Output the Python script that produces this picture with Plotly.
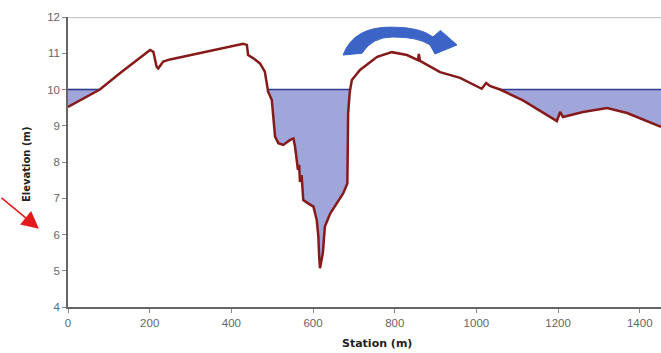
import numpy as np
import plotly.graph_objects as go

# Ground profile along the cross-section
station = [0, 78, 127, 201, 209, 217, 221, 233, 250, 340, 429, 438, 441, 454, 470, 482,
           487, 490, 499, 503, 507, 515, 527, 544, 552, 556, 560, 563, 566, 568, 572,
           576, 588, 601, 609, 613, 615, 617, 624, 629, 642, 658, 674, 684, 684.5, 686,
           690, 695, 715, 757, 793, 830, 857, 859, 862, 911, 960, 1013, 1024, 1033,
           1058, 1114, 1197, 1205, 1212, 1222, 1261, 1320, 1369, 1452]
elevation = [9.52, 10.0, 10.45, 11.09, 11.04, 10.63, 10.58, 10.77, 10.83, 11.04, 11.26,
             11.23, 10.95, 10.86, 10.72, 10.49, 10.08, 9.94, 9.71, 9.16, 8.70, 8.52, 8.47,
             8.61, 8.65, 8.42, 7.96, 7.78, 7.92, 7.45, 7.64, 6.95, 6.86, 6.77, 6.40, 5.94,
             5.39, 5.07, 5.49, 6.22, 6.58, 6.86, 7.14, 7.41, 8.60, 9.35, 9.94, 10.26,
             10.54, 10.90, 11.03, 10.95, 10.81, 10.98, 10.79, 10.48, 10.32, 10.02, 10.18,
             10.10, 10.0, 9.70, 9.13, 9.38, 9.24, 9.27, 9.38, 9.49, 9.35, 8.97]

water_level = 10.0

x_ticks = [0, 200, 400, 600, 800, 1000, 1200, 1400]
y_ticks = [4, 5, 6, 7, 8, 9, 10, 11, 12]

x_range = [0, 1452]
y_range = [4, 12]

# Insert the points where the ground crosses the water surface
xs = np.array(station, dtype=float)
zs = np.array(elevation, dtype=float)
px, pz = [xs[0]], [zs[0]]
for i in range(1, len(xs)):
    a, b = zs[i - 1] - water_level, zs[i] - water_level
    if a * b < 0:
        t = a / (a - b)
        px.append(xs[i - 1] + t * (xs[i] - xs[i - 1]))
        pz.append(water_level)
    px.append(xs[i])
    pz.append(zs[i])
px = np.array(px)
pz = np.array(pz)
low = np.minimum(pz, water_level)

wet = low < water_level
mask = wet.copy()
mask[1:] |= wet[:-1]
mask[:-1] |= wet[1:]
surface = np.where(mask, water_level, np.nan)

fig = go.Figure()

# water body: between the water surface and the submerged ground
fig.add_trace(go.Scatter(x=px, y=np.full_like(px, water_level), mode="lines",
                         line=dict(width=0), hoverinfo="skip", showlegend=False))
fig.add_trace(go.Scatter(x=px, y=low, mode="lines", line=dict(width=0),
                         fill="tonexty", fillcolor="#a0a5da",
                         hoverinfo="skip", showlegend=False))
# water surface
fig.add_trace(go.Scatter(x=px, y=surface, mode="lines", connectgaps=False,
                         line=dict(color="#2d3c8e", width=1.6),
                         hoverinfo="skip", showlegend=False))
# ground line
fig.add_trace(go.Scatter(x=station, y=elevation, mode="lines",
                         line=dict(color="#861a1a", width=2.5),
                         showlegend=False))

# frame line along the top of the plot
fig.add_shape(type="line", xref="paper", yref="y", x0=0, x1=1, y0=12, y1=12,
              line=dict(color="#c9c9c9", width=2.5), layer="below")

# curved flow arrow above the channel
arrow_path = ("M 673.4,10.95 Q 700.0,11.75 795.8,11.72 Q 861.9,11.72 893.7,11.45 "
              "L 912.0,11.63 L 952.5,11.23 L 898.6,10.98 L 886.4,11.23 "
              "Q 857.0,11.45 795.8,11.45 Q 744.4,11.45 720.0,11.00 Z")
fig.add_shape(type="path", xref="x", yref="y", path=arrow_path,
              fillcolor="#3b64c6", line=dict(color="#3b64c6", width=1), layer="above")

# red pointer in the left margin
fig.add_annotation(xref="paper", yref="paper", x=-0.049, y=0.27, ax=-40, ay=-32,
                   axref="pixel", ayref="pixel", text="", showarrow=True,
                   arrowhead=2, arrowsize=2.3, arrowwidth=1.5, arrowcolor="#e3191c")

# axis titles
fig.add_annotation(xref="paper", yref="paper", x=(26 - 68) / 593, y=0.493,
                   xanchor="center", yanchor="middle",
                   text="<b>Elevation (m)</b>", textangle=-90, showarrow=False,
                   font=dict(family="DejaVu Sans", size=10, color="#222222"))
fig.add_annotation(xref="paper", yref="paper", x=(377 - 68) / 593, y=-(343 - 307) / 290,
                   xanchor="center", yanchor="middle",
                   text="<b>Station (m)</b>", showarrow=False,
                   font=dict(family="DejaVu Sans", size=11, color="#222222"))

axis_font = dict(family="Liberation Sans", size=11.5, color="#666666")
fig.update_xaxes(range=x_range, tickvals=x_ticks, ticks="outside", ticklen=4,
                 tickcolor="#888888", showline=True, linecolor="#666666", linewidth=1.5,
                 showgrid=False, zeroline=False, tickfont=axis_font)
fig.update_yaxes(range=y_range, tickvals=y_ticks, ticks="outside", ticklen=4,
                 tickcolor="#888888", showline=True, linecolor="#666666", linewidth=1.5,
                 showgrid=False, zeroline=False, tickfont=axis_font)

fig.update_layout(width=661, height=353, margin=dict(l=68, r=0, t=17, b=46),
                  plot_bgcolor="white", paper_bgcolor="white", showlegend=False)

fig.write_html("out.html")
